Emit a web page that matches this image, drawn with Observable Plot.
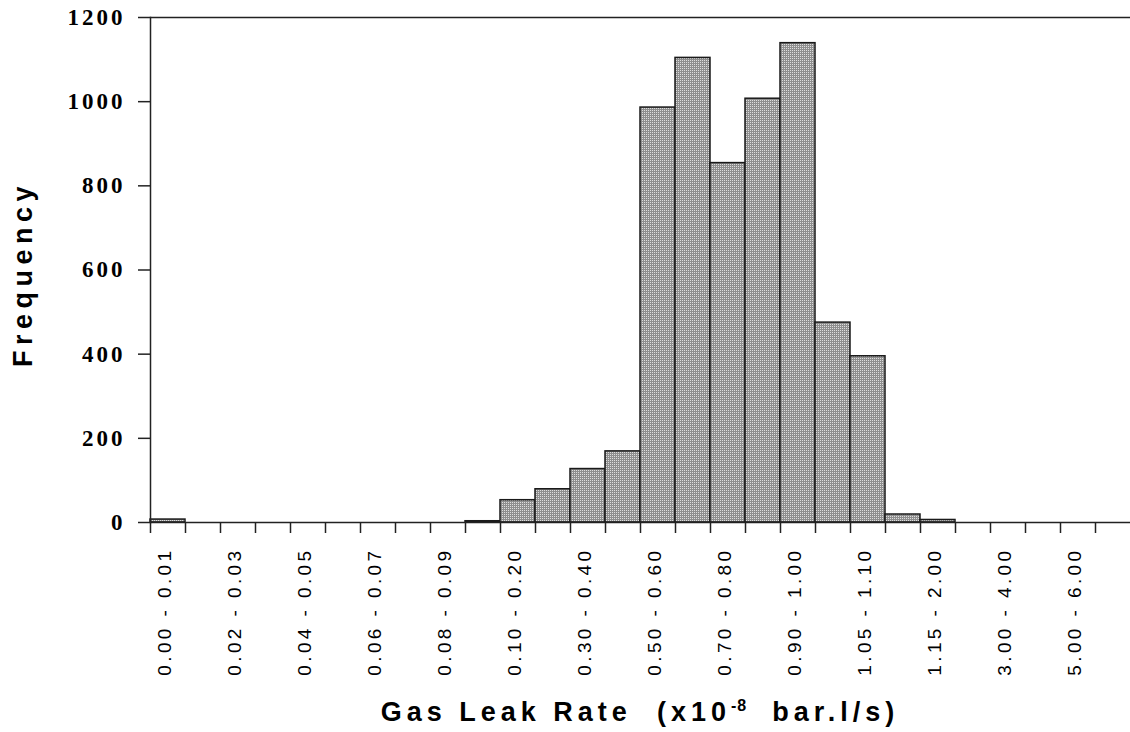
<!DOCTYPE html>
<html>
<head>
<meta charset="utf-8">
<script src="https://cdn.jsdelivr.net/npm/d3@7"></script>
<script src="https://cdn.jsdelivr.net/npm/@observablehq/plot@0.6"></script>
<style>
  html, body { margin: 0; padding: 0; background: #fff; }
  #wrap { position: relative; width: 1130px; height: 732px; overflow: hidden; }
  #chart g[aria-label="x-axis tick label"] text { letter-spacing: 3.4px; }
  #chart g[aria-label="y-axis tick label"] text { letter-spacing: 3px; }
  #xtitle {
    position: absolute; left: 150px; width: 980px; top: 699px;
    text-align: center; font: bold 27px "Liberation Sans", Arial, sans-serif;
    line-height: 27px; letter-spacing: 5px; white-space: pre; color: #000;
  }
  #xtitle sup { font-size: 16px; line-height: 0; vertical-align: 10px; letter-spacing: 1px; }
</style>
</head>
<body>
<div id="wrap"><div id="chart"></div><div id="xtitle"></div></div>
<script>
const categories = [
  "0.00 - 0.01", "0.01 - 0.02", "0.02 - 0.03", "0.03 - 0.04", "0.04 - 0.05",
  "0.05 - 0.06", "0.06 - 0.07", "0.07 - 0.08", "0.08 - 0.09", "0.09 - 0.10",
  "0.10 - 0.20", "0.20 - 0.30", "0.30 - 0.40", "0.40 - 0.50", "0.50 - 0.60",
  "0.60 - 0.70", "0.70 - 0.80", "0.80 - 0.90", "0.90 - 1.00", "1.00 - 1.05",
  "1.05 - 1.10", "1.10 - 1.15", "1.15 - 2.00", "2.00 - 3.00", "3.00 - 4.00",
  "4.00 - 5.00", "5.00 - 6.00", "6.00 - 7.00"
];
const frequencies = [
  7, 0, 0, 0, 0,
  0, 0, 0, 0, 3,
  53, 79, 127, 169, 986,
  1104, 854, 1007, 1139, 475,
  395, 19, 6, 0, 0,
  0, 0, 0
];
const tickLabels = [
  "0.00 - 0.01", "0.02 - 0.03", "0.04 - 0.05", "0.06 - 0.07", "0.08 - 0.09",
  "0.10 - 0.20", "0.30 - 0.40", "0.50 - 0.60", "0.70 - 0.80", "0.90 - 1.00",
  "1.05 - 1.10", "1.15 - 2.00", "3.00 - 4.00", "5.00 - 6.00"
];
const yTicks = [0, 200, 400, 600, 800, 1000, 1200];
const yTitle = "Frequency";
const xTitleMain = "Gas Leak Rate  (x10";
const xTitleSup = "-8";
const xTitleUnit = "  bar.l/s)";

const data = categories.map((c, i) => ({category: c, frequency: frequencies[i]}));

const W = 1130, H = 692, ML = 150, MR = 0, MT = 17, MB = 170;
const step = (W - ML - MR) / categories.length;

const chart = Plot.plot({
  width: W, height: H,
  marginLeft: ML, marginRight: MR, marginTop: MT, marginBottom: MB,
  style: {background: "#fff", color: "#000"},
  x: {type: "band", domain: categories, padding: 0},
  y: {domain: [0, 1200]},
  marks: [
    Plot.barY(data, {
      x: "category", y: "frequency",
      fill: "url(#stipple)", stroke: "#1a1a1a", strokeWidth: 1.5
    }),
    Plot.ruleY([0, 1200], {stroke: "#222", strokeWidth: 1.5}),
    Plot.frame({anchor: "left", stroke: "#222", strokeWidth: 1.5}),
    Plot.axisY({
      ticks: yTicks, tickSize: 12, tickPadding: 13,
      tickFormat: d => String(d), label: null,
      fontFamily: "Liberation Serif", fontWeight: "bold", fontSize: 23,
      stroke: "#222", strokeWidth: 1.5
    }),
    Plot.axisX({
      ticks: categories, tickSize: 11, dx: -step / 2,
      tickFormat: () => "", label: null,
      stroke: "#222", strokeWidth: 1.5
    }),
    Plot.axisX({
      ticks: tickLabels, tickSize: 0, tickPadding: 25, tickRotate: -90,
      dx: -3, label: null,
      fontFamily: "Liberation Sans", fontSize: 19
    }),
    Plot.text([yTitle], {
      text: d => d, frameAnchor: "left", textAnchor: "middle", rotate: -90,
      dx: -127, dy: 4,
      fontFamily: "Liberation Sans", fontWeight: "bold", fontSize: 27
    })
  ]
});

d3.select(chart).insert("defs", ":first-child").html(
  '<pattern id="stipple" width="2" height="2" patternUnits="userSpaceOnUse">' +
  '<rect width="2" height="2" fill="#8e8e8e"></rect>' +
  '<rect width="1" height="1" fill="#dedede"></rect></pattern>'
);
d3.select(chart).selectAll("text")
  .filter(function () { return this.textContent === yTitle; })
  .style("letter-spacing", "5.5px");

document.getElementById("chart").appendChild(chart);

const xt = document.getElementById("xtitle");
xt.appendChild(document.createTextNode(xTitleMain));
const sup = document.createElement("sup");
sup.textContent = xTitleSup;
xt.appendChild(sup);
xt.appendChild(document.createTextNode(xTitleUnit));
</script>
</body>
</html>
